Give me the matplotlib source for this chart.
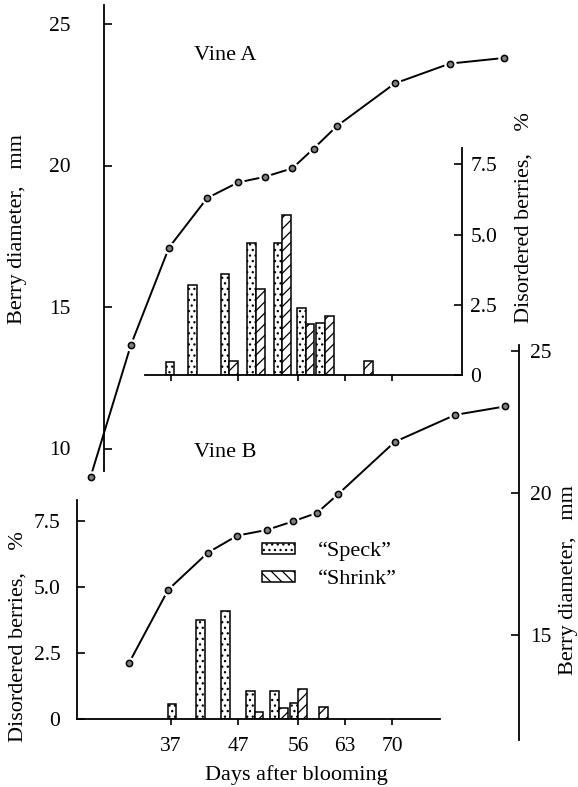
import matplotlib
matplotlib.use("Agg")
import matplotlib.pyplot as plt
from matplotlib.patches import Patch

W, H = 578, 787

# berry diameter (mm) of vine A
vine_a_days = [25, 31, 36.7, 42.4, 47, 51, 55.1, 58.3, 61.8, 70.4, 78.6, 86.7]
vine_a_diam = [9.0, 13.65, 17.1, 18.85, 19.4, 19.6, 19.9, 20.6, 21.4, 22.9, 23.6, 23.8]

# berry diameter (mm) of vine B
vine_b_days = [30.7, 36.6, 42.5, 46.9, 51.3, 55.2, 58.8, 61.9, 70.4, 79.4, 86.9]
vine_b_diam = [14.0, 16.6, 17.9, 18.5, 18.7, 19.0, 19.3, 19.95, 21.8, 22.75, 23.05]

# disordered berries (%): speck bar left of the day, shrink bar right of it
bar_a_days = [37.5, 40.9, 45.7, 49.7, 53.6, 57.1, 60.0, 65.8]
speck_a = [0.45, 3.2, 3.6, 4.7, 4.7, 2.4, 1.85, 0]
shrink_a = [0, 0, 0.5, 3.05, 5.7, 1.8, 2.1, 0.5]

bar_b_days = [37.8, 42.1, 45.8, 49.5, 53.1, 56.0, 59.1]
speck_b = [0.55, 3.75, 4.1, 1.05, 1.05, 0.6, 0]
shrink_b = [0, 0, 0, 0.25, 0.4, 1.15, 0.45]

day_ticks = [37, 47, 56, 63, 70]
pct_ticks = [0, 2.5, 5.0, 7.5]
pct_labels = ["0", "2.5", "5.0", "7.5"]

plt.rcParams["font.family"] = ["Liberation Serif", "DejaVu Serif"]
plt.rcParams["font.size"] = 16
plt.rcParams["hatch.linewidth"] = 0.9

fig = plt.figure(figsize=(W / 100, H / 100), dpi=100)


def day(px):
    return 37 + (px - 171) / 6.70


def add_axes(x0, y0, x1, y1):
    ax = fig.add_axes([x0 / W, 1 - y1 / H, (x1 - x0) / W, (y1 - y0) / H])
    ax.set_xlim(day(x0), day(x1))
    ax.patch.set_visible(False)
    for s in ax.spines.values():
        s.set_visible(False)
        s.set_linewidth(1.3)
    ax.tick_params(bottom=False, left=False, labelbottom=False, labelleft=False,
                   width=1.2, labelsize=15.5)
    return ax


def draw_line(ax, days, diam):
    ax.plot(days, diam, color="black", lw=1.4, clip_on=False, zorder=2)
    ax.plot(days, diam, "o", ms=8, color="white", clip_on=False, zorder=3)
    ax.plot(days, diam, "o", ms=4.5, mfc="0.5", mec="black", mew=1.1,
            clip_on=False, zorder=4)


def draw_bars(ax, days, speck, shrink, w=1.3):
    for d, s, k in zip(days, speck, shrink):
        if s > 0:
            ax.bar(d - w / 2, s, width=w, facecolor="white", edgecolor="black",
                   hatch="...", lw=1.1)
        if k > 0:
            ax.bar(d + w / 2, k, width=w, facecolor="white", edgecolor="black",
                   hatch="///", lw=1.1)


# vine A diameter, left axis
axA = add_axes(104, 5, 520, 471)
axA.set_ylim(25 - (471 - 24) / 28.3, 25 + 19 / 28.3)
axA.spines["left"].set_visible(True)
axA.set_yticks([10, 15, 20, 25])
axA.tick_params(axis="y", left=True, labelleft=True, direction="in", length=6, pad=24)
draw_line(axA, vine_a_days, vine_a_diam)

# vine A disordered berries
axAbar = add_axes(145, 148, 462, 375)
axAbar.set_ylim(0, (375 - 148) / 28.1)
axAbar.spines["bottom"].set_visible(True)
axAbar.spines["right"].set_visible(True)
axAbar.set_yticks(pct_ticks, pct_labels)
axAbar.tick_params(axis="y", right=True, labelright=True, direction="in", length=6, pad=6)
axAbar.set_xticks(day_ticks)
axAbar.tick_params(axis="x", bottom=True, direction="out", length=4)
draw_bars(axAbar, bar_a_days, speck_a, shrink_a)

# vine B diameter, right axis
axB = add_axes(77, 345, 519, 740)
axB.set_ylim(25 - (740 - 351) / 28.4, 25 + 6 / 28.4)
axB.spines["right"].set_visible(True)
axB.set_yticks([15, 20, 25])
axB.tick_params(axis="y", right=True, labelright=True, direction="in", length=6, pad=8)
draw_line(axB, vine_b_days, vine_b_diam)

# vine B disordered berries
axBbar = add_axes(77, 500, 440, 719)
axBbar.set_ylim(0, (719 - 500) / 26.4)
axBbar.spines["left"].set_visible(True)
axBbar.spines["bottom"].set_visible(True)
axBbar.set_yticks(pct_ticks, pct_labels)
axBbar.tick_params(axis="y", left=True, labelleft=True, direction="in", length=6, pad=12)
axBbar.set_xticks(day_ticks, [str(d) for d in day_ticks])
axBbar.tick_params(axis="x", bottom=True, labelbottom=True, direction="out", length=4, pad=9)
draw_bars(axBbar, bar_b_days, speck_b, shrink_b)

handles = [
    Patch(facecolor="white", edgecolor="black", hatch="...", lw=1.1),
    Patch(facecolor="white", edgecolor="black", hatch="\\\\\\", lw=1.1),
]
fig.legend(handles, ["\u201cSpeck\u201d", "\u201cShrink\u201d"], loc="upper left",
           bbox_to_anchor=(262 / W, 1 - 542 / H), frameon=False,
           handlelength=1.5, handleheight=0.42, labelspacing=0.4, handletextpad=1.0,
           borderpad=0, borderaxespad=0)

fig.text(225 / W, 1 - 55 / H, "Vine A", ha="center", va="center")
fig.text(225 / W, 1 - 452 / H, "Vine B", ha="center", va="center")
fig.text(18 / W, 1 - 229 / H, "Berry diameter,   mm", rotation=90, ha="center", va="center")
fig.text(18 / W, 1 - 637 / H, "Disordered berries,    %", rotation=90, ha="center", va="center")
fig.text(524 / W, 1 - 218 / H, "Disordered berries,    %", rotation=90, ha="center", va="center")
fig.text(569 / W, 1 - 580 / H, "Berry diameter,   mm", rotation=90, ha="center", va="center")
fig.text(296 / W, 1 - 775 / H, "Days after blooming", ha="center", va="center")

fig.savefig("out.png", dpi=100)
